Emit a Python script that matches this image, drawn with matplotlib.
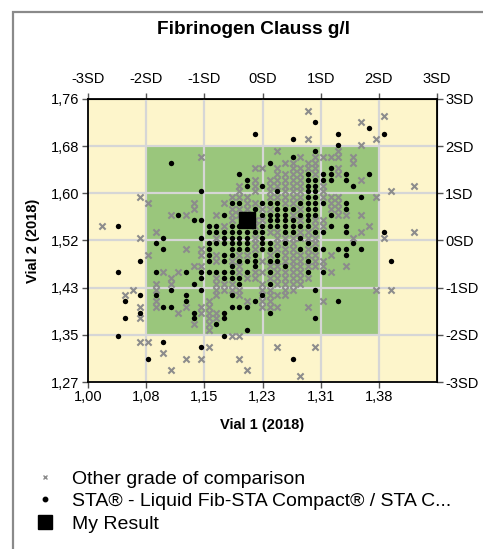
import matplotlib
matplotlib.use("Agg")
import matplotlib.pyplot as plt
from matplotlib.lines import Line2D
from matplotlib.patches import Rectangle

plt.rcParams['font.family'] = ['Liberation Sans', 'DejaVu Sans']

title = "Fibrinogen Clauss g/l"
x_label = "Vial 1 (2018)"
y_label = "Vial 2 (2018)"
x_mean, x_sd = 1.2305, 0.0765
y_mean, y_sd = 1.515, 0.0817
sd_steps = [-3, -2, -1, 0, 1, 2, 3]
sd_labels = ["-3SD", "-2SD", "-1SD", "0SD", "1SD", "2SD", "3SD"]
y_sd_labels = ["-3SD", "-2SD", "-1SD", "0SD", "1SD", "2SD", "3SD"]
x_tick_labels = ["1,00", "1,08", "1,15", "1,23", "1,31", "1,38"]
y_tick_labels = ["1,27", "1,35", "1,43", "1,52", "1,60", "1,68", "1,76"]

legend_labels = ["Other grade of comparison",
                 "STA® - Liquid Fib-STA Compact® / STA C...",
                 "My Result"]

my_result = (1.21, 1.55)

other_points = [
    (1.02,1.54),(1.07,1.59),(1.08,1.58),(1.11,1.56),(1.13,1.56),(1.14,1.58),(1.14,1.57),(1.15,1.66),
    (1.09,1.53),(1.07,1.52),(1.17,1.56),(1.18,1.58),(1.19,1.59),(1.22,1.64),(1.23,1.64),(1.25,1.67),
    (1.29,1.74),(1.39,1.73),(1.36,1.72),(1.29,1.69),(1.36,1.68),(1.38,1.69),(1.33,1.67),(1.33,1.66),
    (1.26,1.65),(1.28,1.66),(1.31,1.66),(1.32,1.66),(1.35,1.66),(1.35,1.65),(1.33,1.64),(1.33,1.63),
    (1.36,1.62),(1.38,1.59),(1.40,1.60),(1.43,1.61),(1.43,1.53),(1.33,1.56),(1.34,1.56),(1.33,1.58),
    (1.32,1.58),(1.36,1.56),(1.37,1.54),(1.35,1.52),(1.39,1.52),(1.38,1.43),(1.40,1.43),(1.25,1.33),
    (1.30,1.33),(1.28,1.28),(1.31,1.41),(1.29,1.40),(1.23,1.40),(1.24,1.40),(1.25,1.40),(1.25,1.42),
    (1.26,1.42),(1.26,1.43),(1.32,1.46),(1.31,1.48),(1.32,1.49),(1.34,1.47),(1.36,1.53),(1.29,1.49),
    (1.08,1.49),(1.10,1.46),(1.12,1.46),(1.11,1.45),(1.11,1.44),(1.09,1.44),(1.09,1.43),(1.06,1.43),
    (1.05,1.42),(1.07,1.40),(1.07,1.38),(1.09,1.41),(1.09,1.40),(1.12,1.39),(1.13,1.40),(1.14,1.37),
    (1.15,1.40),(1.15,1.39),(1.16,1.38),(1.16,1.37),(1.16,1.36),(1.16,1.41),(1.17,1.38),(1.19,1.35),
    (1.07,1.34),(1.08,1.34),(1.16,1.33),(1.10,1.32),(1.13,1.31),(1.15,1.31),(1.20,1.31),(1.11,1.29),
    (1.21,1.29),
    (1.13,1.50),(1.15,1.50),(1.22,1.52),(1.22,1.51),(1.22,1.50),(1.15,1.49),(1.17,1.49),(1.20,1.49),
    (1.21,1.49),(1.17,1.48),(1.19,1.48),(1.23,1.48),(1.14,1.47),(1.15,1.47),(1.20,1.47),(1.20,1.46),
    (1.22,1.46),(1.23,1.46),(1.17,1.45),(1.21,1.45),(1.22,1.45),(1.17,1.44),(1.18,1.44),(1.19,1.44),
    (1.23,1.44),(1.17,1.43),(1.18,1.43),(1.19,1.43),(1.20,1.43),(1.23,1.43),(1.17,1.42),(1.20,1.42),
    (1.23,1.42),(1.21,1.41),(1.23,1.41),(1.24,1.41),(1.16,1.40),(1.17,1.39),(1.16,1.39),(1.20,1.35),
    (1.24,1.62),(1.24,1.61),(1.24,1.60),(1.24,1.59),(1.24,1.57),(1.24,1.53),
    (1.25,1.64),(1.25,1.63),(1.25,1.62),(1.25,1.61),(1.25,1.59),(1.25,1.53),(1.25,1.52),
    (1.26,1.63),(1.26,1.62),(1.26,1.61),(1.26,1.60),(1.26,1.59),(1.26,1.58),(1.26,1.52),
    (1.27,1.65),(1.27,1.64),(1.27,1.63),(1.27,1.62),(1.27,1.61),(1.27,1.60),(1.27,1.59),(1.27,1.58),
    (1.27,1.56),(1.27,1.52),
    (1.28,1.64),(1.28,1.63),(1.28,1.62),(1.28,1.61),(1.28,1.60),(1.28,1.59),(1.28,1.57),(1.28,1.55),
    (1.28,1.53),(1.28,1.52),
    (1.29,1.65),(1.29,1.64),(1.29,1.53),(1.29,1.52),
    (1.30,1.66),(1.30,1.65),(1.30,1.64),(1.30,1.63),(1.30,1.55),(1.30,1.54),(1.30,1.52),
    (1.31,1.61),(1.31,1.60),(1.31,1.59),(1.31,1.55),(1.31,1.54),
    (1.32,1.59),(1.32,1.57),(1.33,1.59),(1.33,1.57),
    (1.24,1.49),(1.24,1.47),(1.24,1.45),(1.24,1.43),(1.24,1.42),
    (1.25,1.51),(1.25,1.50),(1.25,1.47),(1.25,1.46),(1.25,1.45),(1.25,1.44),
    (1.26,1.50),(1.26,1.49),(1.26,1.48),(1.26,1.46),(1.26,1.45),(1.26,1.44),
    (1.27,1.51),(1.27,1.50),(1.27,1.49),(1.27,1.48),(1.27,1.47),(1.27,1.46),(1.27,1.45),(1.27,1.44),
    (1.27,1.43),
    (1.28,1.49),(1.28,1.48),(1.28,1.47),(1.28,1.46),(1.28,1.45),(1.28,1.44),
    (1.29,1.50),(1.29,1.47),(1.29,1.45),
    (1.30,1.51),(1.30,1.49),(1.30,1.48),(1.30,1.47),(1.31,1.47),
    (1.19,1.57),(1.19,1.56),(1.19,1.55),(1.20,1.61),(1.20,1.60),(1.20,1.59),(1.20,1.57),(1.20,1.56),
    (1.21,1.59),(1.21,1.58),(1.21,1.57),(1.22,1.62),(1.22,1.61),(1.22,1.60),(1.22,1.58),(1.22,1.55),
    (1.22,1.54),(1.23,1.57),(1.23,1.55),(1.18,1.54),(1.17,1.52),
]

sta_points = [
    (1.22,1.70),(1.11,1.65),(1.20,1.63),(1.21,1.62),(1.21,1.61),(1.24,1.65),(1.15,1.60),(1.04,1.54),
    (1.10,1.52),(1.12,1.56),(1.14,1.55),(1.15,1.55),(1.16,1.54),(1.17,1.54),(1.18,1.56),(1.30,1.72),
    (1.37,1.71),(1.33,1.70),(1.39,1.70),(1.27,1.69),(1.33,1.68),(1.30,1.67),(1.27,1.66),(1.32,1.64),
    (1.34,1.63),(1.34,1.62),(1.37,1.63),(1.35,1.61),(1.36,1.59),(1.39,1.53),(1.34,1.58),(1.34,1.57),
    (1.31,1.58),(1.32,1.63),(1.32,1.62),(1.31,1.63),(1.34,1.54),(1.34,1.53),(1.32,1.54),(1.40,1.48),
    (1.33,1.41),(1.30,1.38),(1.27,1.31),(1.30,1.43),(1.24,1.39),(1.23,1.42),(1.24,1.44),(1.31,1.46),
    (1.29,1.46),(1.31,1.50),(1.33,1.50),(1.34,1.50),(1.34,1.49),(1.35,1.51),(1.36,1.50),(1.31,1.53),
    (1.30,1.50),(1.29,1.48),
    (1.09,1.51),(1.10,1.50),(1.07,1.48),(1.04,1.46),(1.09,1.46),(1.11,1.43),(1.05,1.41),(1.07,1.42),
    (1.05,1.38),(1.04,1.35),(1.09,1.42),(1.10,1.40),(1.11,1.40),(1.13,1.42),(1.13,1.41),(1.14,1.44),
    (1.15,1.45),(1.15,1.43),(1.14,1.39),(1.14,1.38),(1.17,1.37),(1.18,1.39),(1.18,1.38),(1.18,1.35),
    (1.21,1.36),(1.10,1.34),(1.15,1.33),(1.08,1.31),(1.07,1.39),
    (1.15,1.52),(1.18,1.52),(1.19,1.52),(1.20,1.52),(1.21,1.52),(1.23,1.52),(1.16,1.51),(1.17,1.51),
    (1.18,1.51),(1.19,1.51),(1.20,1.51),(1.21,1.51),(1.23,1.51),(1.16,1.50),(1.19,1.50),(1.20,1.50),
    (1.21,1.50),(1.23,1.50),(1.16,1.49),(1.18,1.49),(1.19,1.49),(1.22,1.49),(1.16,1.48),(1.18,1.48),
    (1.20,1.48),(1.21,1.48),(1.22,1.48),(1.19,1.47),(1.22,1.47),(1.13,1.46),(1.15,1.46),(1.16,1.46),
    (1.17,1.46),(1.18,1.46),(1.19,1.46),(1.21,1.46),(1.18,1.45),(1.19,1.45),(1.20,1.45),(1.20,1.44),
    (1.19,1.42),(1.22,1.41),(1.19,1.40),(1.20,1.40),(1.21,1.40),
    (1.24,1.58),(1.24,1.56),(1.24,1.55),(1.24,1.54),
    (1.25,1.60),(1.25,1.58),(1.25,1.57),(1.25,1.56),(1.25,1.55),(1.25,1.54),
    (1.26,1.57),(1.26,1.56),(1.26,1.55),(1.26,1.54),(1.26,1.53),
    (1.27,1.57),(1.27,1.55),(1.27,1.54),(1.27,1.53),
    (1.28,1.58),(1.28,1.56),(1.28,1.54),
    (1.29,1.63),(1.29,1.62),(1.29,1.61),(1.29,1.60),(1.29,1.59),(1.29,1.58),(1.29,1.57),(1.29,1.56),
    (1.29,1.55),(1.29,1.54),
    (1.30,1.62),(1.30,1.61),(1.30,1.60),(1.30,1.59),(1.30,1.58),(1.30,1.57),(1.30,1.56),(1.30,1.53),
    (1.31,1.62),(1.32,1.56),
    (1.24,1.51),(1.24,1.50),(1.24,1.48),(1.24,1.46),(1.25,1.49),(1.25,1.48),(1.26,1.51),(1.26,1.47),
    (1.28,1.52),(1.28,1.50),(1.29,1.51),
    (1.19,1.58),(1.19,1.54),(1.19,1.53),(1.20,1.58),(1.20,1.54),(1.20,1.53),(1.21,1.53),(1.22,1.57),
    (1.22,1.53),(1.23,1.61),(1.23,1.58),(1.23,1.56),(1.23,1.54),(1.23,1.53),(1.18,1.53),(1.17,1.53),
    (1.16,1.53),
]

other_x = [p[0] for p in other_points]
other_y = [p[1] for p in other_points]
sta_x = [p[0] for p in sta_points]
sta_y = [p[1] for p in sta_points]

W, H = 483, 549
fig = plt.figure(figsize=(W / 100, H / 100), dpi=100)
fig.patch.set_facecolor('white')

# outer frame
fig.add_artist(Rectangle((13 / W, -0.2), 1.2, 1 - 12 / H + 0.2, transform=fig.transFigure,
                         fill=False, edgecolor='#8a8a8a', linewidth=1.6, clip_on=False))

ax = fig.add_axes([88 / W, 1 - 382 / H, (437 - 88) / W, (382 - 99) / H])

xs = [x_mean + k * x_sd for k in sd_steps]
ys = [y_mean + k * y_sd for k in sd_steps]
ax.set_xlim(xs[0], xs[-1])
ax.set_ylim(ys[0], ys[-1])
ax.set_facecolor('#fdf5cb')
ax.add_patch(Rectangle((xs[1], ys[1]), xs[5] - xs[1], ys[5] - ys[1],
                       facecolor='#9ac67c', edgecolor='none', zorder=0.5))
for v in xs[1:-1]:
    ax.axvline(v, color='#d6d6d6', lw=1.6, zorder=1)
for v in ys[1:-1]:
    ax.axhline(v, color='#d6d6d6', lw=1.6, zorder=1)

ax.scatter(other_x, other_y, marker='x', s=20, color='#8c8c8c', linewidths=1.5, zorder=3)
ax.scatter(sta_x, sta_y, marker='o', s=15, color='black', linewidths=0, zorder=4)
ax.scatter([my_result[0]], [my_result[1]], marker='s', s=120, color='black', zorder=5)

for sp in ax.spines.values():
    sp.set_color('black')
    sp.set_linewidth(1.3)

ax.set_xticks(xs[:-1])
ax.set_xticklabels(x_tick_labels)
ax.set_yticks(ys)
ax.set_yticklabels(y_tick_labels)
ax.tick_params(axis='both', direction='out', length=4, width=1, color='#555555',
               labelsize=10.5, pad=2)

top = ax.secondary_xaxis('top')
top.set_xticks(xs)
top.set_xticklabels(sd_labels)
top.tick_params(direction='out', length=4, width=1, color='#555555', labelsize=10.5, pad=5)
right = ax.secondary_yaxis('right')
right.set_yticks(ys)
right.set_yticklabels(y_sd_labels)
right.tick_params(direction='out', length=4, width=1, color='#555555', labelsize=10.5, pad=2)

ax.set_xlabel(x_label, fontsize=10.5, fontweight='bold', labelpad=10)
ax.set_ylabel(y_label, fontsize=10.5, fontweight='bold', labelpad=8)

fig.text(254 / W, 1 - 30 / H, title, ha='center', va='center', fontsize=13.7, fontweight='bold')

handles = [
    Line2D([], [], linestyle='none', marker='x', markersize=3.5, markeredgewidth=1.0, color='#8c8c8c'),
    Line2D([], [], linestyle='none', marker='o', markersize=3.2, color='black'),
    Line2D([], [], linestyle='none', marker='s', markersize=10, color='black'),
]
fig.legend(handles, legend_labels, loc='upper left', bbox_to_anchor=(33 / W, 1 - 470 / H),
           frameon=False, fontsize=14, handlelength=1.2, handletextpad=0.8,
           labelspacing=0.25, borderpad=0, borderaxespad=0)

fig.savefig('out.png', dpi=100)
